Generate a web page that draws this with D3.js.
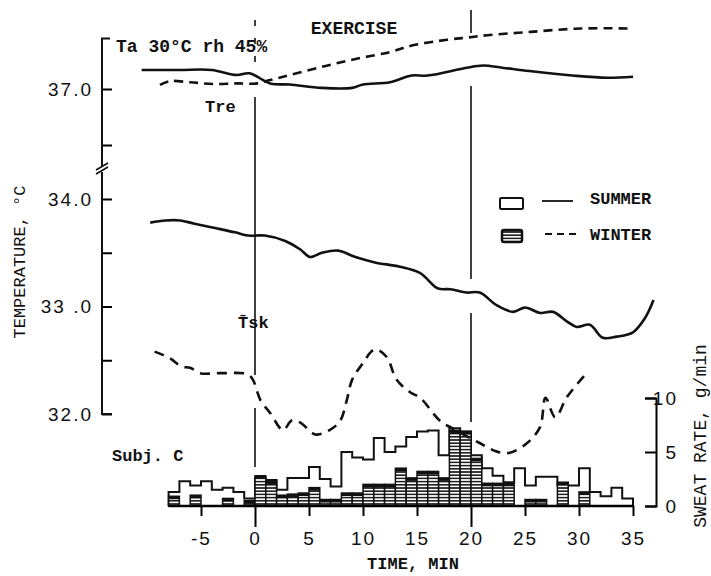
<!DOCTYPE html>
<html>
<head>
<meta charset="utf-8">
<script src="https://cdn.jsdelivr.net/npm/d3@7/dist/d3.min.js"></script>
<style>
  body { margin: 0; background: #fff; }
  text { fill: #111; }
  .mono { font-family: "Liberation Mono", "DejaVu Sans Mono", monospace; }
  .num { font-family: "Liberation Sans", Arial, sans-serif; font-size: 19px; letter-spacing: 2px; }
</style>
</head>
<body>
<svg id="chart" width="711" height="576"></svg>
<script>
// ---- data ----
// sweat rate, g/min, one bin per minute starting at t = -8
var sweatBins = d3.range(-8, 35);
var summerSweat = [1.3, 2.3, 1.9, 2.3, 1.5, 1.7, 1.3, 0.7,
  2.6, 2.4, 1.5, 2.6, 2.6, 3.6, 2.5, 1.8, 5.0, 4.5, 4.3, 6.3, 5.0, 5.5, 6.4, 6.9, 7.0, 4.7,
  7.2, 6.9, 4.7, 3.5, 2.8, 2.2, 3.5, 1.9, 2.7, 2.7, 1.9, 1.9, 3.5, 1.3, 0.9, 1.7, 0.7];
var winterSweat = [0.9, 0, 1.0, 0, 0, 0.7, 0, 0.5,
  2.8, 2.3, 1.0, 1.1, 1.2, 1.7, 0.6, 0.6, 1.2, 1.2, 2.0, 2.0, 2.0, 3.5, 2.6, 3.2, 3.2, 2.6,
  7.0, 6.9, 4.4, 2.1, 2.1, 2.1, 0, 0.6, 0.6, 0, 2.2, 0, 1.3, 0, 0, 0, 0];

// rectal temperature
var treSummerT = [-10.5, -7, -4, -1.7, -0.5, 1.4, 3.2, 6.2, 9.0, 10.0, 12.5, 14.5, 16, 19.6, 21.1, 22.9, 25.4, 29.4, 32.6, 35.0];
var treSummer  = [37.17, 37.17, 37.17, 37.125, 37.14, 37.05, 37.04, 37.01, 37.01, 37.04, 37.06, 37.12, 37.12, 37.19, 37.21, 37.19, 37.16, 37.12, 37.10, 37.11];
var treWinterT = [-8.8, -7.9, -6.0, -3.9, -1.7, 0.2, 1.4, 3.2, 6.3, 9.4, 12.5, 14.6, 17.8, 19.7, 21.5, 25.5, 30.1, 35.0];
var treWinter  = [37.036, 37.07, 37.06, 37.045, 37.05, 37.05, 37.08, 37.125, 37.20, 37.27, 37.33, 37.39, 37.44, 37.46, 37.48, 37.51, 37.54, 37.54];

// mean skin temperature
var tskSummerT = [-9.7, -8.3, -6.9, -5.6, -3.7, -1.85, -0.65, 0.9, 2.8, 4.2, 5.1, 6.2, 7.7, 9.3, 11.1, 13.4, 15.3, 16.9, 18.1, 19.6, 20.8, 22.4, 23.9, 25.0, 26.4, 27.6, 28.9, 29.8, 31.0, 32.2, 33.5, 35.0, 36.1, 36.9];
var tskSummer  = [33.78, 33.80, 33.80, 33.77, 33.73, 33.69, 33.66, 33.66, 33.61, 33.53, 33.46, 33.50, 33.52, 33.46, 33.41, 33.37, 33.31, 33.17, 33.16, 33.13, 33.13, 33.01, 32.95, 32.99, 32.94, 32.95, 32.86, 32.81, 32.83, 32.71, 32.72, 32.76, 32.89, 33.06];
var tskWinterT = [-9.3, -7.9, -6.8, -6.0, -5.1, -3.2, -0.7, -0.2, 0.5, 1.4, 2.6, 3.4, 4.2, 5.6, 6.9, 7.9, 8.5, 9.0, 9.9, 11.1, 12.2, 13.1, 14.4, 15.3, 17.1, 18.2, 20.8, 22.4, 23.6, 25.2, 26.4, 26.9, 27.8, 28.9, 30.7];
var tskWinter  = [32.58, 32.52, 32.44, 32.43, 32.38, 32.38, 32.37, 32.32, 32.13, 32.01, 31.85, 31.94, 31.92, 31.81, 31.85, 31.94, 32.13, 32.32, 32.46, 32.60, 32.53, 32.32, 32.20, 32.15, 31.94, 31.87, 31.73, 31.65, 31.64, 31.73, 31.88, 32.15, 31.97, 32.16, 32.38];

var timeTicks = [-5, 0, 5, 10, 15, 20, 25, 30, 35];
var tempTicksLow = [32, 32.5, 33, 33.5, 34];
var tempTicksHigh = [36.5, 37];
var tempLabels = {32: "32.0", 33: "33 .0", 34: "34.0", 37: "37.0"};
var sweatTicks = [0, 5, 10];

// ---- scales ----
var svg = d3.select('#chart');

var x = d3.scaleLinear().domain([-8, 35]).range([168.6, 633]);
var yHi = d3.scaleLinear().domain([36.5, 37.0]).range([145, 89]);
var yLo = d3.scaleLinear().domain([32, 34]).range([414, 199]);
var ys = d3.scaleLinear().domain([0, 10]).range([506, 398]);

// hatch for winter bars
var defs = svg.append('defs');
var pat = defs.append('pattern')
  .attr('id', 'hatch')
  .attr('patternUnits', 'userSpaceOnUse')
  .attr('width', 6).attr('height', 3.2);
pat.append('rect').attr('width', 6).attr('height', 3.2).attr('fill', '#fff');
pat.append('line').attr('x1', 0).attr('x2', 6).attr('y1', 1.6).attr('y2', 1.6)
  .attr('stroke', '#111').attr('stroke-width', 1.5);

// ---- exercise markers (drawn first, curves go over them) ----
var markers = [
  {t: 0, segs: [[20, 67, true], [97, 375], [408, 467]]},
  {t: 20, segs: [[10, 33], [86, 279], [313, 422]]}
];
markers.forEach(function(m){
  m.segs.forEach(function(s){
    svg.append('line')
      .attr('x1', x(m.t)).attr('x2', x(m.t))
      .attr('y1', s[0]).attr('y2', s[1])
      .attr('stroke', '#111').attr('stroke-width', 1.6)
      .attr('stroke-dasharray', s[2] ? '6,12' : null);
  });
});

// ---- sweat rate histogram ----
var summerPts = [[-8, 0]];
sweatBins.forEach(function(t, i){ summerPts.push([t, summerSweat[i]]); });
summerPts.push([35, 0]);

var stepLine = d3.line()
  .x(function(d){ return x(d[0]); })
  .y(function(d){ return ys(d[1]); })
  .curve(d3.curveStepAfter);

svg.append('path')
  .attr('d', stepLine(summerPts))
  .attr('fill', '#fff')
  .attr('stroke', '#111')
  .attr('stroke-width', 2);

var winterData = sweatBins.map(function(t, i){ return {t: t, v: winterSweat[i]}; })
  .filter(function(d){ return d.v > 0; });

svg.append('g').selectAll('rect').data(winterData).enter()
  .append('rect')
  .attr('x', function(d){ return x(d.t); })
  .attr('y', function(d){ return ys(d.v); })
  .attr('width', function(d){ return x(d.t + 1) - x(d.t); })
  .attr('height', function(d){ return ys(0) - ys(d.v); })
  .attr('fill', 'url(#hatch)')
  .attr('stroke', '#111')
  .attr('stroke-width', 1.5);

svg.append('g').selectAll('rect').data(winterData).enter()
  .append('rect')
  .attr('x', function(d){ return x(d.t); })
  .attr('y', function(d){ return ys(d.v); })
  .attr('width', function(d){ return x(d.t + 1) - x(d.t); })
  .attr('height', 3)
  .attr('fill', '#111');

// ---- temperature curves ----
function curve(ts, vs, scale){
  var pts = ts.map(function(t, i){ return [t, vs[i]]; });
  return d3.line()
    .x(function(d){ return x(d[0]); })
    .y(function(d){ return scale(d[1]); })
    .curve(d3.curveCatmullRom.alpha(0.5))(pts);
}

var lines = [
  {d: curve(treSummerT, treSummer, yHi), dash: null},
  {d: curve(treWinterT, treWinter, yHi), dash: '9,6'},
  {d: curve(tskSummerT, tskSummer, yLo), dash: null},
  {d: curve(tskWinterT, tskWinter, yLo), dash: '10,7'}
];
lines.forEach(function(l){
  svg.append('path')
    .attr('d', l.d)
    .attr('fill', 'none')
    .attr('stroke', '#111')
    .attr('stroke-width', 2.6)
    .attr('stroke-dasharray', l.dash);
});

// ---- axes ----
var xAxis = d3.axisBottom(x)
  .tickValues(timeTicks)
  .tickSize(10)
  .tickPadding(16)
  .tickFormat(function(d){ return String(d); });

var gx = svg.append('g')
  .attr('transform', 'translate(0,' + ys(0) + ')')
  .call(xAxis);
gx.select('.domain').attr('stroke-width', 2.5).attr('d', 'M' + x(-8) + ',0H' + x(35));
gx.selectAll('.tick line').attr('stroke-width', 2)
  .attr('y2', function(d){ return (d === 0 || d === 20) ? 21 : 10; });
gx.selectAll('text').attr('class', 'num').attr('fill', '#111');

function tempFmt(d){ return tempLabels[d] || ''; }

var gHi = svg.append('g')
  .attr('transform', 'translate(102,0)')
  .call(d3.axisLeft(yHi).tickValues(tempTicksHigh).tickSize(-10).tickPadding(9).tickFormat(tempFmt));
var gLo = svg.append('g')
  .attr('transform', 'translate(102,0)')
  .call(d3.axisLeft(yLo).tickValues(tempTicksLow).tickSize(-10).tickPadding(9).tickFormat(tempFmt));
[gHi, gLo].forEach(function(g){
  g.select('.domain').remove();
  g.selectAll('.tick line').attr('stroke-width', 2);
  g.selectAll('text').attr('class', 'num').attr('fill', '#111');
});

// broken temperature axis line
var topT = 37.45;
gHi.append('path')
  .attr('d', 'M8,' + yHi(topT) + 'H0V' + 167)
  .attr('fill', 'none').attr('stroke', '#111').attr('stroke-width', 2);
gLo.append('path')
  .attr('d', 'M0,' + 172 + 'V' + yLo(32) + 'H10')
  .attr('fill', 'none').attr('stroke', '#111').attr('stroke-width', 2);
[0, 4].forEach(function(o){
  gLo.append('line')
    .attr('x1', -6).attr('y1', 170 + o)
    .attr('x2', 6).attr('y2', 163 + o)
    .attr('stroke', '#111').attr('stroke-width', 1.6);
});

var gs = svg.append('g')
  .attr('transform', 'translate(656,0)')
  .call(d3.axisRight(ys).tickValues(sweatTicks).tickSize(-11).tickSizeOuter(-11).tickPadding(22));
gs.select('.domain').attr('stroke-width', 2);
gs.selectAll('.tick line').attr('stroke-width', 2);
gs.selectAll('text').attr('class', 'num').attr('fill', '#111')
  .attr('text-anchor', 'end').attr('letter-spacing', 0);

// ---- text ----
function label(txt, px, py, opts){
  opts = opts || {};
  var t = svg.append('text')
    .attr('class', 'mono')
    .attr('x', px).attr('y', py)
    .attr('font-size', opts.size || 18)
    .attr('font-weight', opts.weight || 'bold')
    .attr('text-anchor', opts.anchor || 'start')
    .text(txt);
  if (opts.rotate) t.attr('transform', 'rotate(-90,' + px + ',' + py + ')');
  return t;
}

label('EXERCISE', 354, 34, {anchor: 'middle'});
label('Ta 30\u00B0C rh 45%', 116, 52);
label('Tre', 205, 112, {size: 17});
label('T\u0304sk', 238, 328, {size: 17});
label('Subj. C', 112, 461, {size: 17});
label('TIME, MIN', 413, 569, {anchor: 'middle', size: 17});
label('TEMPERATURE, \u00B0C', 25, 262, {anchor: 'middle', rotate: true, size: 17, weight: 'normal'});
label('SWEAT RATE, g/min', 706, 436, {anchor: 'middle', rotate: true, size: 18, weight: 'normal'});

// ---- legend ----
svg.append('rect').attr('x', 500).attr('y', 198).attr('width', 23).attr('height', 11)
  .attr('fill', '#fff').attr('stroke', '#111').attr('stroke-width', 2).attr('rx', 1.5);
svg.append('line').attr('x1', 542).attr('x2', 573).attr('y1', 201).attr('y2', 201)
  .attr('stroke', '#111').attr('stroke-width', 1.8);
label('SUMMER', 590, 204, {size: 17});

svg.append('rect').attr('x', 502).attr('y', 230).attr('width', 20).attr('height', 12)
  .attr('fill', 'url(#hatch)').attr('stroke', '#111').attr('stroke-width', 2.5).attr('rx', 2);
svg.append('line').attr('x1', 545).attr('x2', 577).attr('y1', 234).attr('y2', 234)
  .attr('stroke', '#111').attr('stroke-width', 2).attr('stroke-dasharray', '7,5');
label('WINTER', 590, 240, {size: 17});
</script>
</body>
</html>
